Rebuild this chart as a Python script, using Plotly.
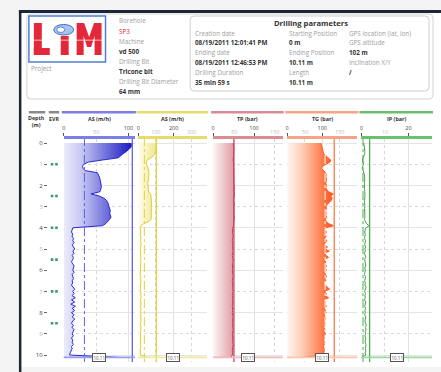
import plotly.graph_objects as go

W, H = 441, 372

# ---------------- data ----------------
DEPTH = [0.0, 0.1, 0.2, 0.3, 0.4, 0.5, 0.6, 0.7, 0.8, 0.9,
         1.0, 1.1, 1.2, 1.3, 1.4, 1.5, 1.6, 1.7, 1.8, 1.9,
         2.0, 2.1, 2.2, 2.3, 2.4, 2.5, 2.6, 2.7, 2.8, 2.9,
         3.0, 3.1, 3.2, 3.3, 3.4, 3.5, 3.6, 3.7, 3.8, 3.9,
         4.0, 4.1, 4.2, 4.3, 4.4, 4.5, 4.6, 4.7, 4.8, 4.9,
         5.0, 5.1, 5.2, 5.3, 5.4, 5.5, 5.6, 5.7, 5.8, 5.9,
         6.0, 6.1, 6.2, 6.3, 6.4, 6.5, 6.6, 6.7, 6.8, 6.9,
         7.0, 7.1, 7.2, 7.3, 7.4, 7.5, 7.6, 7.7, 7.8, 7.9,
         8.0, 8.1, 8.2, 8.3, 8.4, 8.5, 8.6, 8.7, 8.8, 8.9,
         9.0, 9.1, 9.2, 9.3, 9.4, 9.5, 9.6, 9.7, 9.8, 9.9,
         10.0, 10.11]

AS_BLUE = [104, 105, 104, 101, 97, 92, 88, 84, 60, 38,
           31, 29, 30, 33, 52, 54, 55, 56, 57, 58,
           58, 58, 57, 56, 42, 55, 62, 66, 68, 69,
           70, 71, 72, 71, 72, 73, 71, 68, 65, 60,
           14, 13, 12, 14, 13, 15, 14, 16, 13, 15,
           17, 14, 16, 13, 15, 14, 12, 14, 16, 15,
           14, 16, 13, 14, 15, 13, 14, 12, 15, 17,
           14, 16, 13, 18, 12, 17, 11, 18, 13, 17,
           12, 16, 13, 17, 14, 12, 15, 13, 16, 14,
           13, 15, 12, 14, 13, 15, 12, 13, 11, 10,
           9, 84]

AS_YELLOW = [100, 103, 102, 100, 97, 93, 86, 72, 50, 44,
             46, 52, 56, 58, 60, 60, 58, 56, 55, 54,
             55, 56, 55, 58, 70, 72, 74, 74, 75, 74,
             73, 74, 75, 74, 73, 74, 72, 60, 30, 15,
             10, 12, 14, 11, 13, 15, 12, 14, 16, 13,
             12, 14, 11, 13, 15, 12, 14, 13, 16, 12,
             14, 13, 11, 15, 12, 14, 13, 16, 12, 14,
             11, 15, 13, 17, 12, 14, 16, 12, 15, 13,
             14, 12, 16, 13, 15, 12, 14, 13, 15, 12,
             13, 14, 12, 15, 13, 12, 14, 11, 13, 12,
             12, 50]

TP = [49, 50, 50, 51, 50, 50, 51, 50, 49, 50,
      51, 50, 50, 51, 51, 50, 51, 51, 50, 51,
      51, 52, 51, 51, 52, 51, 51, 50, 51, 52,
      51, 51, 50, 51, 51, 52, 51, 51, 50, 50,
      48, 48, 47, 48, 49, 48, 47, 48, 48, 47,
      48, 49, 48, 47, 48, 48, 49, 47, 48, 48,
      47, 48, 48, 49, 48, 47, 48, 48, 47, 48,
      49, 48, 47, 48, 48, 49, 48, 47, 48, 48,
      47, 48, 49, 48, 48, 47, 48, 48, 49, 48,
      47, 48, 48, 47, 48, 49, 48, 48, 47, 48,
      47, 44]

TG = [96, 98, 100, 101, 103, 104, 110, 118, 124, 122,
      112, 100, 98, 104, 109, 111, 110, 112, 111, 110,
      112, 110, 113, 118, 131, 124, 128, 126, 120, 114,
      111, 112, 109, 111, 110, 112, 109, 111, 118, 132,
      110, 107, 112, 108, 111, 106, 113, 109, 104, 115,
      108, 120, 105, 112, 118, 103, 110, 107, 112, 108,
      111, 106, 109, 112, 107, 110, 104, 108, 115, 121,
      105, 112, 108, 118, 104, 110, 107, 112, 106, 109,
      111, 105, 108, 110, 106, 109, 107, 104, 108, 106,
      109, 105, 107, 104, 108, 106, 103, 107, 105, 104,
      106, 46]

IP = [1.0, 1.2, 1.3, 1.4, 1.5, 1.4, 1.2, 0.8, 0.4, 0.6,
      1.0, 0.5, 0.3, 0.8, 1.2, 1.3, 1.4, 1.5, 1.4, 1.3,
      1.2, 1.4, 1.3, 1.5, 1.6, 1.4, 1.5, 1.3, 1.4, 1.6,
      1.5, 1.4, 1.5, 1.6, 1.4, 1.5, 1.3, 1.6, 2.2, 3.2,
      2.0, 1.6, 1.4, 1.7, 1.5, 1.3, 1.8, 1.6, 1.4, 1.9,
      1.5, 1.7, 1.3, 1.6, 1.8, 1.4, 1.6, 1.5, 1.9, 1.4,
      1.7, 1.5, 1.3, 1.8, 1.6, 1.4, 1.7, 1.5, 2.0, 1.6,
      1.4, 1.8, 1.5, 1.7, 1.3, 1.9, 1.6, 1.4, 1.8, 1.5,
      1.7, 1.4, 1.9, 1.6, 1.5, 1.8, 2.1, 1.7, 2.0, 1.6,
      1.8, 1.5, 1.9, 1.7, 1.6, 2.0, 1.8, 1.7, 1.9, 1.6,
      1.8, 0.1]

EVR_DEPTHS = [1.0, 2.5, 4.0, 5.5, 7.0, 8.5]
END_DEPTH = 10.11
END_LABEL = "10.11"
DEPTH_TICKS = [0, 1, 2, 3, 4, 5, 6, 7, 8, 9, 10]

TRACK_TITLES = ["AS (m/h)", "AS (m/h)", "TP (bar)", "TG (bar)", "IP (bar)"]
TRACK_VALUES = [AS_BLUE, AS_YELLOW, TP, TG, IP]
TRACK_RANGES = [[0, 110], [0, 390], [0, 170], [0, 200], [0, 30]]
TRACK_MAJOR = [[0, 100], [0, 200], [0, 100], [0, 100], [0, 20]]
TRACK_MINOR = [[50], [100, 300], [50, 150], [50, 150], [10]]
TRACK_LIMIT = [106, 102, 51, 134, 3.5]
TRACK_MEAN = [32, 34, None, 108, 0.7]

HEADER_LEFT = [("Borehole", "label"), ("SP3", "red"), ("Machine", "label"), ("vd 500", "value"),
               ("Drilling Bit", "label"), ("Tricone bit", "value"),
               ("Drilling Bit Diameter", "label"), ("64 mm", "value")]
PARAM_COL1 = [("Creation date", "label"), ("08/19/2011 12:01:41 PM", "value"),
              ("Ending date", "label"), ("08/19/2011 12:46:53 PM", "value"),
              ("Drilling Duration", "label"), ("35 min 59 s", "value")]
PARAM_COL2 = [("Starting Position", "label"), ("0 m", "value"),
              ("Ending Position", "label"), ("10.11 m", "value"),
              ("Length", "label"), ("10.11 m", "value")]
PARAM_COL3 = [("GPS location (lat, lon)", "label"), ("GPS altitude", "label"), ("102 m", "value"),
              ("Inclination X/Y", "label"), ("/", "value")]

# ---------------- styles / layout ----------------
FONT = "Open Sans"
TRACK_PX = [(62, 133.5), (137, 206), (212, 282), (286.5, 357), (361, 432)]
HEAD_COL = ["#7c80e6", "#e6dc6c", "#d98c92", "#f6a487", "#6bbf6f"]
LINE_COL = ["#2a2ad2", "#ddcf3a", "#c23a4c", "#ff5a22", "#43a047"]
LIMIT_COL = ["#5f63e6", "#e0d43e", "#c8475a", "#ff7a45", "#4caf50"]
MEAN_COL = ["#5f63e6", "#e0d43e", None, "#ffffff", "#4caf50"]
END_COL = ["#9a9cf0", "#efe9a0", "#efb8bd", "#fbc4ad", "#9fd7a2"]
FILL_SCALE = [
    [[0, "#ececfb"], [0.25, "#c9c9f3"], [1, "#1818c4"]],
    [[0, "#fffdf0"], [1, "#f0e68e"]],
    [[0, "#fdf5f5"], [1, "#e29ca5"]],
    [[0, "#fff6f0"], [0.3, "#ffd3bd"], [1, "#ff5a1f"]],
    None,
]
FILL_STOP = [105, 100, 50, 125, None]

PLOT_TOP, PLOT_BOT = 139, 362
Y_RANGE = [10.33, -0.19]


def X(p):
    return p / W


def Y(p):
    return 1 - p / H


def rrect(x0, y0, x1, y1, r):
    pts = (f"M {X(x0 + r)},{Y(y0)} L {X(x1 - r)},{Y(y0)} Q {X(x1)},{Y(y0)} {X(x1)},{Y(y0 + r)} "
           f"L {X(x1)},{Y(y1 - r)} Q {X(x1)},{Y(y1)} {X(x1 - r)},{Y(y1)} "
           f"L {X(x0 + r)},{Y(y1)} Q {X(x0)},{Y(y1)} {X(x0)},{Y(y1 - r)} "
           f"L {X(x0)},{Y(y0 + r)} Q {X(x0)},{Y(y0)} {X(x0 + r)},{Y(y0)} Z")
    return pts


fig = go.Figure()
shapes, annos = [], []

# page frame
shapes += [
    dict(type="rect", xref="paper", yref="paper", x0=X(19), x1=1, y0=Y(367), y1=Y(13),
         fillcolor="white", line_width=0, layer="below"),
    dict(type="rect", xref="paper", yref="paper", x0=X(17), x1=1, y0=Y(13), y1=Y(10),
         fillcolor="#1c2636", line_width=0, layer="below"),
    dict(type="rect", xref="paper", yref="paper", x0=X(17), x1=X(19.5), y0=0, y1=Y(10),
         fillcolor="#1c2636", line_width=0, layer="below"),
    dict(type="path", xref="paper", yref="paper", path=rrect(25, 14, 433, 99, 4),
         fillcolor="white", line=dict(color="#d4d4d4", width=1), layer="below"),
    dict(type="path", xref="paper", yref="paper", path=rrect(189, 16, 429, 91, 4),
         fillcolor="white", line=dict(color="#cfcfcf", width=1), layer="below"),
]

# logo
RED = "#e3283a"
shapes += [
    dict(type="rect", xref="paper", yref="paper", x0=X(27), x1=X(104), y0=Y(62), y1=Y(16),
         line=dict(color="#4f7fd3", width=1.5), fillcolor="white", layer="below"),
    dict(type="rect", xref="paper", yref="paper", x0=X(32), x1=X(40), y0=Y(55), y1=Y(23),
         fillcolor=RED, line_width=0),
    dict(type="rect", xref="paper", yref="paper", x0=X(32), x1=X(48), y0=Y(55), y1=Y(48),
         fillcolor=RED, line_width=0),
    dict(type="rect", xref="paper", yref="paper", x0=X(59), x1=X(67), y0=Y(55), y1=Y(36),
         fillcolor=RED, line_width=0),
    dict(type="path", xref="paper", yref="paper", fillcolor=RED, line_width=0,
         path=(f"M {X(75)},{Y(55)} L {X(75)},{Y(23)} L {X(82.5)},{Y(23)} L {X(87.5)},{Y(37)} "
               f"L {X(92.5)},{Y(23)} L {X(100)},{Y(23)} L {X(100)},{Y(55)} L {X(93)},{Y(55)} "
               f"L {X(93)},{Y(36)} L {X(89.5)},{Y(47)} L {X(85.5)},{Y(47)} L {X(82)},{Y(36)} "
               f"L {X(82)},{Y(55)} Z")),
    dict(type="rect", xref="paper", yref="paper", x0=X(31), x1=X(101), y0=Y(41), y1=Y(39.5),
         fillcolor="rgba(255,255,255,0.45)", line_width=0),
    dict(type="circle", xref="paper", yref="paper", x0=X(52), x1=X(72), y0=Y(35), y1=Y(24.5),
         fillcolor="#a8c3ec", line=dict(color="#3d6fc4", width=1)),
    dict(type="circle", xref="paper", yref="paper", x0=X(55), x1=X(63), y0=Y(32.5), y1=Y(27),
         fillcolor="white", line=dict(color="#3d6fc4", width=0.8)),
]


def txt(x, y, s, size=6.3, color="#9a9a9a", bold=False, xanchor="left", xref="paper"):
    annos.append(dict(x=x if xref != "paper" else X(x), y=Y(y), xref=xref, yref="paper",
                      text=f"<b>{s}</b>" if bold else s, showarrow=False,
                      xanchor=xanchor, yanchor="middle",
                      font=dict(family=FONT, size=size, color=color)))


txt(27, 68.5, "Project", size=6.3)
STY = {"label": dict(color="#a0a0a0", bold=False), "value": dict(color="#333333", bold=True),
       "red": dict(color="#f02424", bold=False)}
for i, (s, k) in enumerate(HEADER_LEFT):
    txt(116, 21 + i * 10.1, s, **STY[k])
txt(310, 23, "Drilling parameters", size=7.6, color="#333333", bold=True, xanchor="center")
for col_x, col in ((192, PARAM_COL1), (286, PARAM_COL2), (347, PARAM_COL3)):
    for i, (s, k) in enumerate(col):
        txt(col_x, 33 + i * 9.8, s, **STY[k])

# column headers (depth / EVR)
shapes += [
    dict(type="rect", xref="paper", yref="paper", x0=X(27), x1=X(43.5), y0=Y(113.5), y1=Y(111),
         fillcolor="#8a8a8a", line_width=0),
    dict(type="rect", xref="paper", yref="paper", x0=X(47), x1=X(57.5), y0=Y(113.5), y1=Y(111),
         fillcolor="#8a8a8a", line_width=0),
]
annos.append(dict(x=X(35), y=Y(121.5), xref="paper", yref="paper", text="<b>Depth<br>(m)</b>",
                  showarrow=False, xanchor="center", yanchor="middle",
                  font=dict(family=FONT, size=5.3, color="#333")))
txt(52.5, 118.5, "EVR", size=5.3, color="#333", bold=True, xanchor="center")

yd = [Y(PLOT_BOT), Y(PLOT_TOP)]
layout = dict(
    width=W, height=H, margin=dict(l=0, r=0, t=0, b=0),
    paper_bgcolor="#f4f4f4", plot_bgcolor="rgba(0,0,0,0)", showlegend=False,
    font=dict(family=FONT),
    xaxis=dict(domain=[X(22), X(45)], range=[0, 1], visible=False, fixedrange=True),
    xaxis2=dict(domain=[X(46), X(59)], range=[0, 1], visible=False, anchor="y2", fixedrange=True),
    yaxis=dict(domain=yd, range=Y_RANGE, anchor="x3", showticklabels=False, ticks="",
               zeroline=False, showline=False,
               tickvals=[d for d in DEPTH_TICKS if d % 2 == 0], showgrid=True,
               gridcolor="#e4e4e4", gridwidth=1.2,
               minor=dict(tickvals=[d for d in DEPTH_TICKS if d % 2 == 1], showgrid=True,
                          griddash="dot", gridcolor="#d9d9d9", gridwidth=1)),
    yaxis2=dict(domain=yd, range=Y_RANGE, anchor="x2", side="left", showgrid=False,
                zeroline=False, showline=False, ticks="outside", ticklen=3, tickwidth=1,
                tickcolor="#666", tickvals=DEPTH_TICKS,
                ticktext=[(f"{d}" if d % 2 == 0 else f"<span style='color:#b5b5b5'>{d}</span>")
                          for d in DEPTH_TICKS],
                tickfont=dict(family=FONT, size=6, color="#444"), fixedrange=True),
)

# EVR markers
evr_x, evr_y = [], []
for d in EVR_DEPTHS:
    evr_x += [0.33, 0.67]
    evr_y += [d, d]
fig.add_trace(go.Scatter(x=evr_x, y=evr_y, xaxis="x2", yaxis="y2", mode="markers",
                         marker=dict(symbol="square", size=2.6, color="#3b9a72"),
                         hoverinfo="skip"))

for i in range(5):
    ax = f"x{i + 3}"
    key = f"xaxis{i + 3}"
    x0p, x1p = TRACK_PX[i]
    layout[key] = dict(
        domain=[X(x0p), X(x1p)], range=TRACK_RANGES[i], anchor="y", side="top",
        showline=True, linecolor=HEAD_COL[i], linewidth=2.5,
        ticks="outside", ticklen=3, tickwidth=1, tickcolor="#555",
        tickvals=TRACK_MAJOR[i], ticktext=[str(v) for v in TRACK_MAJOR[i]],
        tickfont=dict(family=FONT, size=5.5, color="#444"), ticklabelstandoff=1,
        showgrid=True, gridcolor="#e2e2e2", gridwidth=1.2, zeroline=False,
        minor=dict(tickvals=TRACK_MINOR[i], showgrid=True, griddash="dot",
                   gridcolor="#d7d7d7", gridwidth=1),
        fixedrange=True,
    )
    # light tick labels
    for v in TRACK_MINOR[i]:
        annos.append(dict(x=v, y=Y(131.5), xref=ax, yref="paper", text=str(v), showarrow=False,
                          xanchor="center", yanchor="middle",
                          font=dict(family=FONT, size=5.5, color="#bdbdbd")))
    # header bar & title
    shapes.append(dict(type="rect", xref="paper", yref="paper", x0=X(x0p - 2), x1=X(x1p + 1),
                       y0=Y(113.5), y1=Y(111), fillcolor=HEAD_COL[i], line_width=0))
    txt((x0p + x1p) / 2, 118.5, TRACK_TITLES[i], size=5.4, color="#333", bold=True,
        xanchor="center")

    # curve
    tr = dict(x=TRACK_VALUES[i], y=DEPTH, xaxis=ax, yaxis="y", mode="lines",
              line=dict(color=LINE_COL[i], width=1), hoverinfo="skip")
    if FILL_SCALE[i] is not None:
        tr.update(fill="tozerox",
                  fillgradient=dict(type="horizontal", colorscale=FILL_SCALE[i],
                                    start=0, stop=FILL_STOP[i]))
    fig.add_trace(go.Scatter(**tr))

    # limit (solid) & mean (dashed) verticals
    shapes.append(dict(type="line", xref=ax, yref="y domain", x0=TRACK_LIMIT[i],
                       x1=TRACK_LIMIT[i], y0=0, y1=1,
                       line=dict(color=LIMIT_COL[i], width=1.3)))
    if TRACK_MEAN[i] is not None:
        shapes.append(dict(type="line", xref=ax, yref="y domain", x0=TRACK_MEAN[i],
                           x1=TRACK_MEAN[i], y0=0, y1=1,
                           line=dict(color=MEAN_COL[i], width=1, dash="dashdot")))
    # end depth line + label
    shapes.append(dict(type="line", xref=f"{ax} domain", yref="y", x0=0, x1=1,
                       y0=END_DEPTH, y1=END_DEPTH, line=dict(color=END_COL[i], width=1.8)))
    annos.append(dict(x=0.5, y=END_DEPTH, xref=f"{ax} domain", yref="y", text=END_LABEL,
                      showarrow=False, xanchor="center", yanchor="middle",
                      bgcolor="white", bordercolor="#555", borderwidth=1, borderpad=0.5,
                      font=dict(family=FONT, size=4.5, color="#555")))

layout["shapes"] = shapes
layout["annotations"] = annos
fig.update_layout(**layout)
fig.write_html("out.html", config={"displayModeBar": False},
               post_script="document.body.style.margin='0px';")
